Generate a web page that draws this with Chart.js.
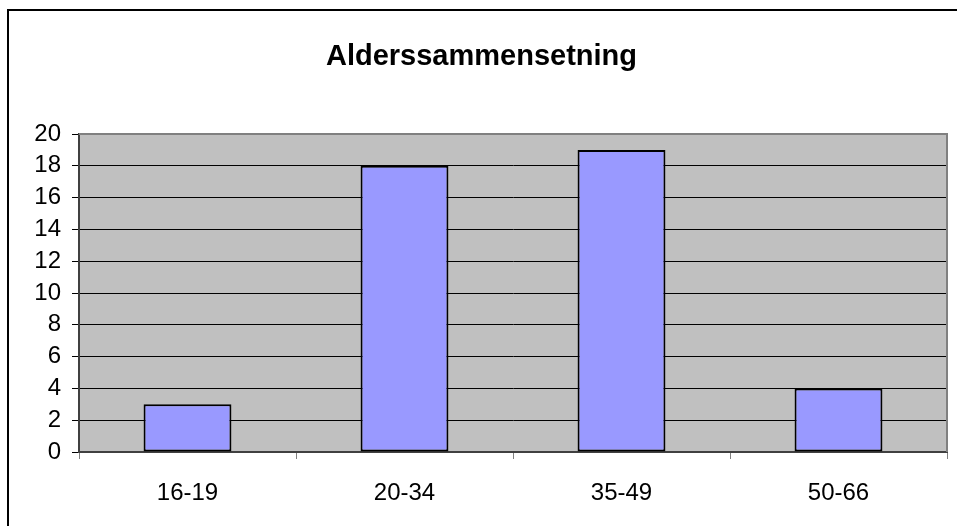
<!DOCTYPE html>
<html>
<head>
<meta charset="utf-8">
<script src="https://cdn.jsdelivr.net/npm/chart.js@4/dist/chart.umd.min.js"></script>
<style>
  html, body { margin: 0; padding: 0; background: #fff; }
  canvas { display: block; }
</style>
</head>
<body>
<canvas id="alder" width="957" height="526"></canvas>
<script>
// Data
const categories = ['16-19', '20-34', '35-49', '50-66']
const antall = [3, 18, 19, 4]
const chartTitle = 'Alderssammensetning'

// Colours
const barBlue = '#9999FF'
const plotGray = '#C0C0C0'
const frameGray = '#808080'
const fontFam = '"Liberation Sans", Arial, sans-serif'

// gray plot area + outer frame, excel style
const excelLook = {
    id: 'excelLook',
    beforeDraw(chart) {
        const { ctx, chartArea: a } = chart
        ctx.save()
        ctx.fillStyle = '#fff'
        ctx.fillRect(0, 0, chart.width, chart.height)
        ctx.strokeStyle = '#000'
        ctx.lineWidth = 2
        ctx.strokeRect(8, 10, chart.width + 20, chart.height + 20)
        ctx.fillStyle = plotGray
        ctx.fillRect(a.left, a.top, a.right - a.left, a.bottom - a.top)
        ctx.restore()
    },
    afterDatasetsDraw(chart) {
        const { ctx, chartArea: a } = chart
        ctx.save()
        ctx.strokeStyle = frameGray
        ctx.lineWidth = 2
        ctx.beginPath()
        ctx.moveTo(a.left, a.top)
        ctx.lineTo(a.right, a.top)
        ctx.lineTo(a.right, a.bottom)
        ctx.stroke()
        ctx.restore()
    },
}

new Chart(document.getElementById('alder'), {
    type: 'bar',
    data: {
        labels: categories,
        datasets: [
            {
                label: 'Antall',
                data: antall,
                backgroundColor: barBlue,
                borderColor: '#000',
                borderWidth: 2,
                borderSkipped: false,
                categoryPercentage: 1,
                barPercentage: 0.405,
            },
        ],
    },
    options: {
        responsive: false,
        animation: false,
        layout: { padding: { left: 16, right: 10, top: 0, bottom: 0 } },
        plugins: {
            legend: { display: false },
            tooltip: { enabled: false },
            title: {
                display: true,
                text: chartTitle,
                color: '#000',
                font: { family: fontFam, size: 29, weight: 'bold', lineHeight: 1.2 },
                padding: { top: 40, bottom: 59.2 },
            },
        },
        scales: {
            x: {
                afterFit: (s) => { s.height = 74 },
                grid: {
                    drawOnChartArea: false,
                    drawTicks: true,
                    tickLength: 7,
                    color: frameGray,
                    offset: true,
                },
                border: { color: '#404040', width: 2 },
                ticks: {
                    color: '#000',
                    padding: 20,
                    font: { family: fontFam, size: 24 },
                },
            },
            y: {
                min: 0,
                max: 20,
                afterFit: (s) => { s.width = 63 },
                ticks: {
                    stepSize: 2,
                    color: '#000',
                    padding: 11,
                    font: { family: fontFam, size: 24 },
                },
                grid: {
                    color: '#000',
                    lineWidth: 1,
                    tickLength: 7,
                    tickColor: '#000',
                },
                border: { color: '#404040', width: 2 },
            },
        },
    },
    plugins: [excelLook],
})
</script>
</body>
</html>
